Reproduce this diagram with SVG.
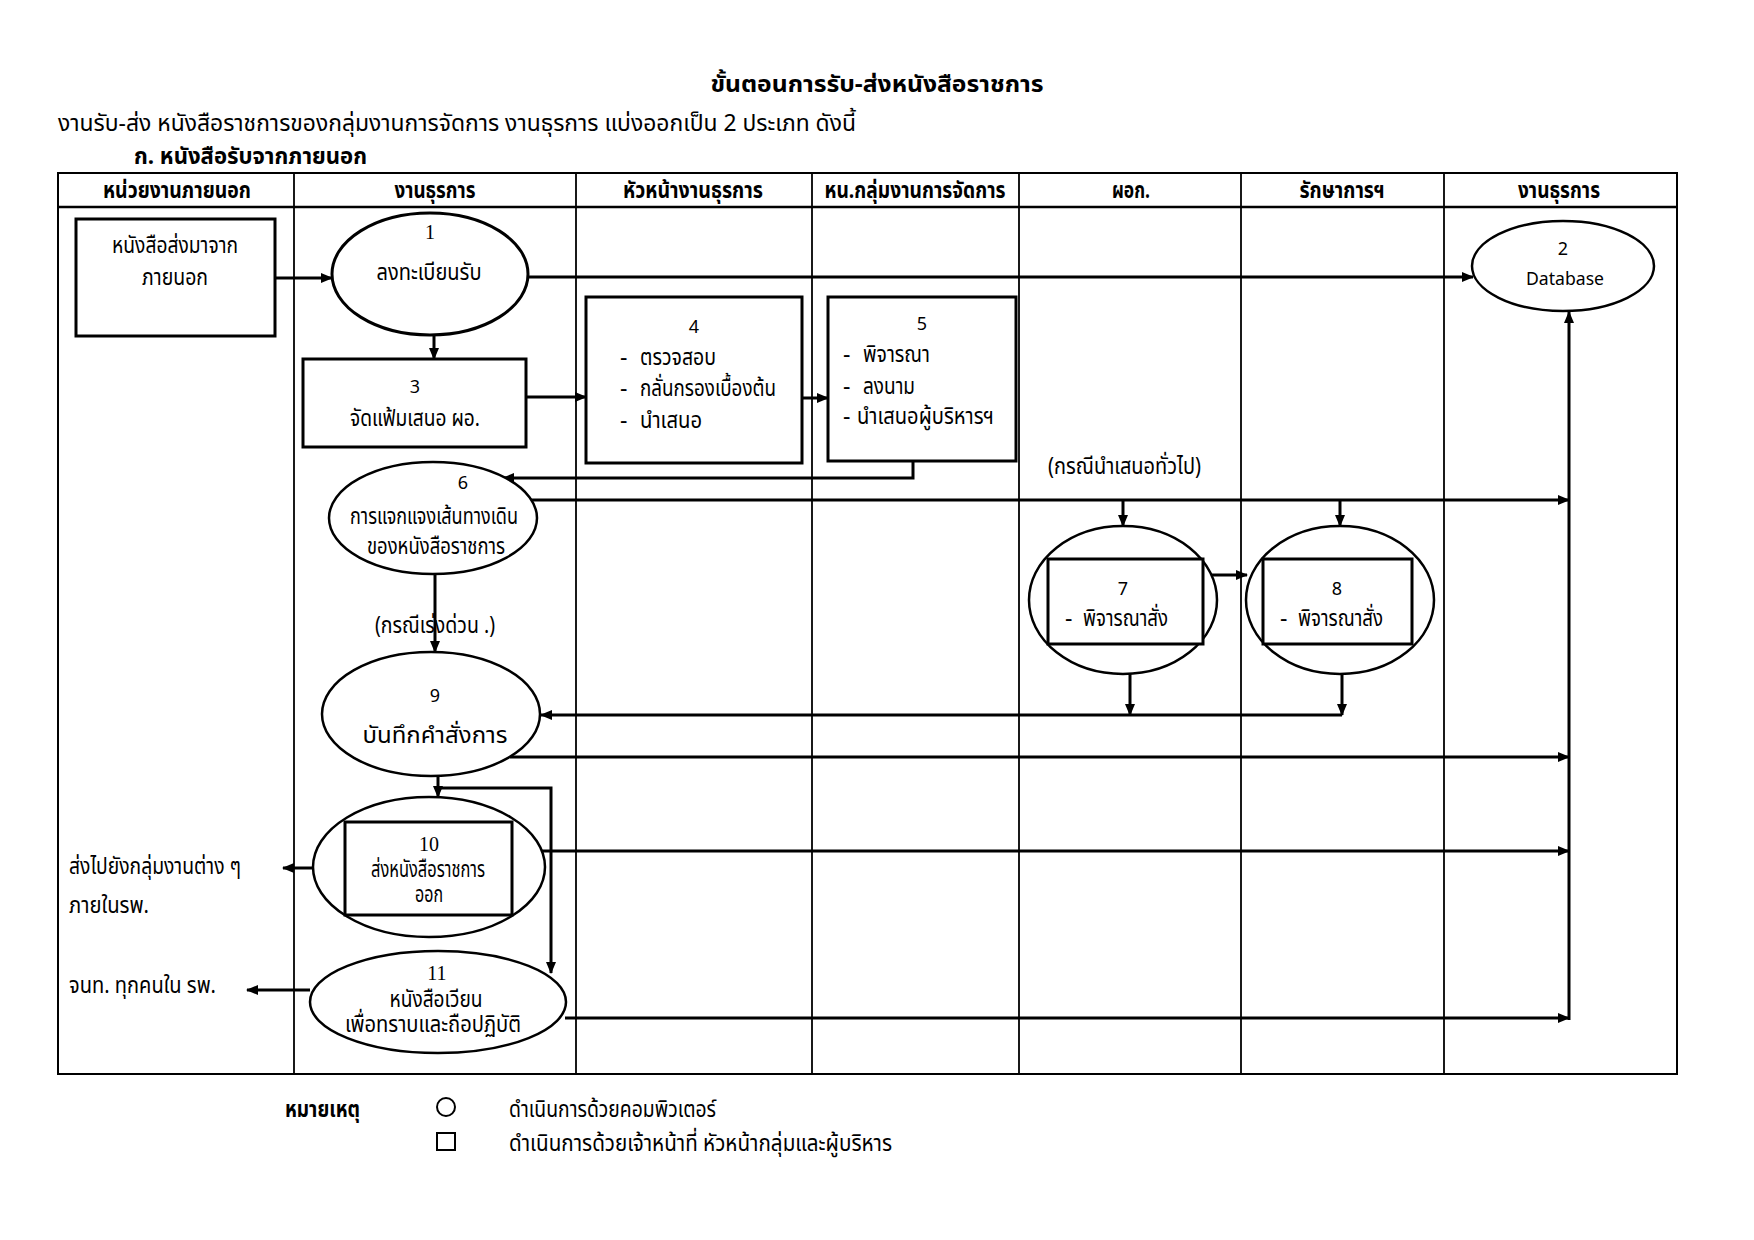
<svg xmlns="http://www.w3.org/2000/svg" width="1754" height="1240" viewBox="0 0 1754 1240">
<defs>
<marker id="ah" viewBox="0 0 12 10" refX="11" refY="5" markerWidth="12" markerHeight="10" markerUnits="userSpaceOnUse" orient="auto">
<path d="M0,0 L12,5 L0,10 Z" fill="#000"/>
</marker>
<style>
.t{font-family:"Noto Sans Thai","Noto Sans","Liberation Sans",sans-serif;font-size:23px;fill:#000}
.b{font-weight:bold}
.m{text-anchor:middle}
.n{font-family:"Noto Sans","Liberation Sans",sans-serif;font-size:18px;fill:#000;text-anchor:middle}
.s{font-family:"Liberation Serif",serif;font-size:20px;fill:#000;text-anchor:middle}
.sh{fill:#fff;stroke:#000;stroke-width:3}
.sh2{fill:#fff;stroke:#000;stroke-width:2.5}
.grid{fill:none;stroke:#000;stroke-width:2}
.col{stroke:#000;stroke-width:1.8}
.c{fill:none;stroke:#000;stroke-width:3;marker-end:url(#ah)}
</style>
</defs>
<rect width="1754" height="1240" fill="#fff"/>

<g id="title">
<text class="t b m" x="877" y="92" font-size="26" textLength="333" lengthAdjust="spacingAndGlyphs">ขั้นตอนการรับ-ส่งหนังสือราชการ</text>
<text class="t" x="58" y="131" textLength="798" lengthAdjust="spacingAndGlyphs">งานรับ-ส่ง หนังสือราชการของกลุ่มงานการจัดการ งานธุรการ แบ่งออกเป็น 2 ประเภท  ดังนี้</text>
<text class="t b" x="134" y="164" font-size="24" textLength="233" lengthAdjust="spacingAndGlyphs">ก. หนังสือรับจากภายนอก</text>
</g>

<g id="table">
<rect class="grid" x="58" y="173" width="1619" height="901"/>
<line x1="58" y1="207" x2="1677" y2="207" stroke="#000" stroke-width="2.5"/>
<line class="col" x1="294" y1="173" x2="294" y2="1074"/>
<line class="col" x1="576" y1="173" x2="576" y2="1074"/>
<line class="col" x1="812" y1="173" x2="812" y2="1074"/>
<line class="col" x1="1019" y1="173" x2="1019" y2="1074"/>
<line class="col" x1="1241" y1="173" x2="1241" y2="1074"/>
<line class="col" x1="1444" y1="173" x2="1444" y2="1074"/>
<text class="t b m" x="177" y="198" textLength="148" lengthAdjust="spacingAndGlyphs">หน่วยงานภายนอก</text>
<text class="t b m" x="435" y="198" textLength="81" lengthAdjust="spacingAndGlyphs">งานธุรการ</text>
<text class="t b m" x="693" y="198" textLength="140" lengthAdjust="spacingAndGlyphs">หัวหน้างานธุรการ</text>
<text class="t b m" x="915" y="198" textLength="181" lengthAdjust="spacingAndGlyphs">หน.กลุ่มงานการจัดการ</text>
<text class="t b m" x="1131" y="198" textLength="38" lengthAdjust="spacingAndGlyphs">ผอก.</text>
<text class="t b m" x="1342" y="198" textLength="85" lengthAdjust="spacingAndGlyphs">รักษาการฯ</text>
<text class="t b m" x="1559" y="198" textLength="82" lengthAdjust="spacingAndGlyphs">งานธุรการ</text>
</g>

<g id="connectors">
<path class="c" d="M275,278 H332"/>
<path class="c" d="M528,277 H1473"/>
<path class="c" d="M434,335 V359"/>
<path class="c" d="M526,397 H586"/>
<path class="c" d="M786,398 H828"/>
<path class="c" d="M913,461 V478 H503"/>
<path class="c" d="M531,500 H1569"/>
<path class="c" d="M1123,500 V526"/>
<path class="c" d="M1340,500 V526"/>
<path class="c" d="M1203,575 H1247"/>
<path class="c" d="M1130,674 V715"/>
<path class="c" d="M1342,674 V715"/>
<path class="c" d="M1342,715 H541"/>
<path class="c" d="M435,574 V652"/>
<path class="c" d="M510,757 H1569"/>
<path class="c" d="M438,776 V797"/>
<path class="c" d="M438,788 H551 V973"/>
<path class="c" d="M313,868 H283"/>
<path class="c" d="M542,851 H1569"/>
<path class="c" d="M310,990 H247"/>
<path class="c" d="M565,1018 H1569"/>
<path class="c" d="M1569,1020 V312"/>
<text class="t" x="1048" y="474" textLength="153" lengthAdjust="spacingAndGlyphs">(กรณีนำเสนอทั่วไป)</text>
<text class="t m" x="435" y="633" textLength="120" lengthAdjust="spacingAndGlyphs">(กรณีเร่งด่วน .)</text>
</g>

<g id="n_ext">
<rect class="sh" x="76" y="219" width="199" height="117"/>
<text class="t m" x="175" y="253" textLength="126" lengthAdjust="spacingAndGlyphs">หนังสือส่งมาจาก</text>
<text class="t m" x="175" y="285" textLength="66" lengthAdjust="spacingAndGlyphs">ภายนอก</text>
</g>

<g id="n1">
<ellipse class="sh" cx="430" cy="274" rx="98" ry="61"/>
<text class="s" x="430" y="239">1</text>
<text class="t m" x="429" y="280" textLength="105" lengthAdjust="spacingAndGlyphs">ลงทะเบียนรับ</text>
</g>

<g id="n2">
<ellipse class="sh2" cx="1563" cy="266" rx="91" ry="45"/>
<text class="n" x="1563" y="255">2</text>
<text class="n" x="1565" y="285" font-size="17" textLength="78" lengthAdjust="spacingAndGlyphs">Database</text>
</g>

<g id="n3">
<rect class="sh" x="303" y="359" width="223" height="88"/>
<text class="n" x="415" y="393">3</text>
<text class="t m" x="415" y="426" textLength="130" lengthAdjust="spacingAndGlyphs">จัดแฟ้มเสนอ ผอ.</text>
</g>

<g id="n4">
<rect class="sh" x="586" y="297" width="216" height="166"/>
<text class="n" x="694" y="333">4</text>
<text class="t" x="620" y="365">-</text>
<text class="t" x="640" y="365" textLength="76" lengthAdjust="spacingAndGlyphs">ตรวจสอบ</text>
<text class="t" x="620" y="396">-</text>
<text class="t" x="640" y="396" textLength="136" lengthAdjust="spacingAndGlyphs">กลั่นกรองเบื้องต้น</text>
<text class="t" x="620" y="428">-</text>
<text class="t" x="640" y="428" textLength="62" lengthAdjust="spacingAndGlyphs">นำเสนอ</text>
</g>

<g id="n5">
<rect class="sh" x="828" y="297" width="188" height="164"/>
<text class="n" x="922" y="330">5</text>
<text class="t" x="843" y="362">-</text>
<text class="t" x="863" y="362" textLength="67" lengthAdjust="spacingAndGlyphs">พิจารณา</text>
<text class="t" x="843" y="394">-</text>
<text class="t" x="863" y="394" textLength="52" lengthAdjust="spacingAndGlyphs">ลงนาม</text>
<text class="t" x="843" y="424">-</text>
<text class="t" x="857" y="424" textLength="137" lengthAdjust="spacingAndGlyphs">นำเสนอผู้บริหารฯ</text>
</g>

<g id="n6">
<ellipse class="sh2" cx="433" cy="518" rx="104" ry="56"/>
<text class="n" x="463" y="489">6</text>
<text class="t m" x="434" y="524" textLength="168" lengthAdjust="spacingAndGlyphs">การแจกแจงเส้นทางเดิน</text>
<text class="t m" x="436" y="554" textLength="138" lengthAdjust="spacingAndGlyphs">ของหนังสือราชการ</text>
</g>

<g id="n7">
<ellipse class="sh2" cx="1123" cy="600" rx="94" ry="74"/>
<rect class="sh" x="1048" y="559" width="155" height="85"/>
<text class="n" x="1123" y="595">7</text>
<text class="t" x="1065" y="626">-</text>
<text class="t" x="1083" y="626" textLength="85" lengthAdjust="spacingAndGlyphs">พิจารณาสั่ง</text>
</g>

<g id="n8">
<ellipse class="sh2" cx="1340" cy="600" rx="94" ry="74"/>
<rect class="sh" x="1263" y="559" width="149" height="85"/>
<text class="n" x="1337" y="595">8</text>
<text class="t" x="1280" y="626">-</text>
<text class="t" x="1298" y="626" textLength="85" lengthAdjust="spacingAndGlyphs">พิจารณาสั่ง</text>
</g>

<g id="n9">
<ellipse class="sh2" cx="431" cy="714" rx="109" ry="62"/>
<text class="n" x="435" y="702" font-size="20">9</text>
<text class="t m" x="435" y="743" textLength="145" lengthAdjust="spacingAndGlyphs">บันทึกคำสั่งการ</text>
</g>

<g id="n10">
<ellipse class="sh2" cx="429" cy="867" rx="116" ry="70"/>
<rect class="sh" x="345" y="822" width="167" height="93"/>
<text class="s" x="429" y="851" font-size="17">10</text>
<text class="t m" x="428" y="877" font-size="16.5" textLength="114" lengthAdjust="spacingAndGlyphs">ส่งหนังสือราชการ</text>
<text class="t m" x="429" y="902" font-size="16.5" textLength="28" lengthAdjust="spacingAndGlyphs">ออก</text>
</g>

<g id="n11">
<ellipse class="sh2" cx="438" cy="1002" rx="128" ry="51"/>
<text class="s" x="437" y="980">11</text>
<text class="t m" x="436" y="1007" font-size="21.5" textLength="93" lengthAdjust="spacingAndGlyphs">หนังสือเวียน</text>
<text class="t m" x="433" y="1032" font-size="21.5" textLength="176" lengthAdjust="spacingAndGlyphs">เพื่อทราบและถือปฏิบัติ</text>
</g>

<g id="outputs">
<text class="t" x="69" y="874" textLength="172" lengthAdjust="spacingAndGlyphs">ส่งไปยังกลุ่มงานต่าง ๆ</text>
<text class="t" x="69" y="913" textLength="80" lengthAdjust="spacingAndGlyphs">ภายในรพ.</text>
<text class="t" x="69" y="993" textLength="147" lengthAdjust="spacingAndGlyphs">จนท. ทุกคนใน รพ.</text>
</g>

<g id="legend">
<text class="t b" x="285" y="1117" font-size="22" textLength="75" lengthAdjust="spacingAndGlyphs">หมายเหตุ</text>
<circle cx="446" cy="1107" r="9" fill="none" stroke="#000" stroke-width="2"/>
<rect x="437" y="1133" width="18" height="17" fill="none" stroke="#000" stroke-width="2"/>
<text class="t" x="509" y="1117" font-size="22" textLength="207" lengthAdjust="spacingAndGlyphs">ดำเนินการด้วยคอมพิวเตอร์</text>
<text class="t" x="509" y="1151" font-size="22" textLength="383" lengthAdjust="spacingAndGlyphs">ดำเนินการด้วยเจ้าหน้าที่  หัวหน้ากลุ่มและผู้บริหาร</text>
</g>
</svg>
